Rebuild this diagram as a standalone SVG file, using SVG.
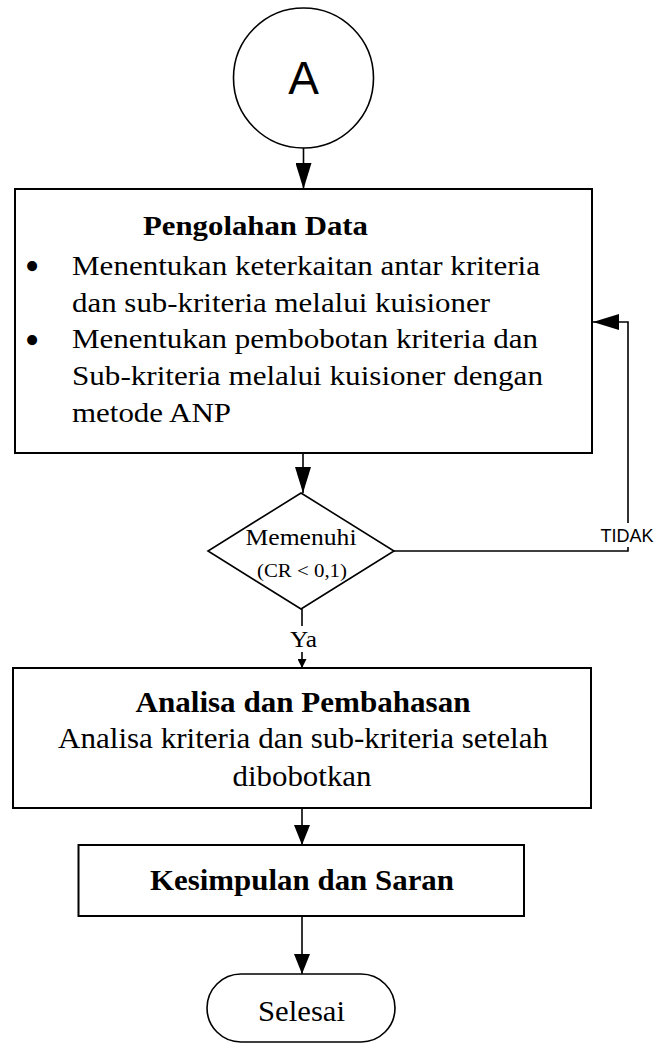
<svg xmlns="http://www.w3.org/2000/svg" width="661" height="1043" viewBox="0 0 661 1043">
<style>
.box{fill:#fff;stroke:#000;stroke-width:2}
.ln{fill:none;stroke:#000;stroke-width:1.6}
.t{font-family:"Liberation Serif","Times New Roman",serif;fill:#000}
.b{font-weight:bold}
.s{font-family:"Liberation Sans",Arial,sans-serif;fill:#000}
.bg{fill:#fff;stroke:none}
</style>
<defs>
<marker id="ah" markerUnits="userSpaceOnUse" markerWidth="26" markerHeight="16" refX="26" refY="8" orient="auto"><path d="M0,0 L26,8 L0,16 Z" fill="#000"/></marker>
<marker id="ahm" markerUnits="userSpaceOnUse" markerWidth="20" markerHeight="16" refX="20" refY="8" orient="auto"><path d="M0,0 L20,8 L0,16 Z" fill="#000"/></marker>
<marker id="ahs" markerUnits="userSpaceOnUse" markerWidth="9" markerHeight="9" refX="9" refY="4.5" orient="auto"><path d="M0,0 L9,4.5 L0,9 Z" fill="#000"/></marker>
</defs>
<rect width="661" height="1043" fill="#fff"/>
<g id="connectors">
<path class="ln" d="M303.5,148 V189" marker-end="url(#ah)"/>
<path class="ln" d="M303,453 V493" marker-end="url(#ah)"/>
<path class="ln" d="M394,551 H628 V322 H593" marker-end="url(#ah)"/>
<path class="ln" d="M302,609 V626"/>
<path class="ln" d="M302,652 V668" marker-end="url(#ahs)"/>
<path class="ln" d="M302,808 V845" marker-end="url(#ahm)"/>
<path class="ln" d="M302,916 V974" marker-end="url(#ahm)"/>
<g id="label-tidak"><rect class="bg" x="598" y="523" width="60" height="24"/><text class="s" x="627" y="542" font-size="18" text-anchor="middle">TIDAK</text></g>
<g id="label-ya"><rect class="bg" x="288" y="626" width="30" height="26"/><text class="t" x="303.5" y="647" font-size="23" text-anchor="middle" textLength="27" lengthAdjust="spacingAndGlyphs">Ya</text></g>
</g>
<g id="node-a">
<circle cx="303.5" cy="78" r="70" fill="#fff" stroke="#000" stroke-width="1.6"/>
<text class="s" x="303.5" y="94" font-size="46" text-anchor="middle">A</text>
</g>
<g id="node-pengolahan">
<rect class="box" x="15" y="189" width="577" height="264"/>
<text class="t b" x="143" y="235" font-size="27" textLength="225" lengthAdjust="spacingAndGlyphs">Pengolahan Data</text>
<text class="t" x="32" y="280" font-size="42" text-anchor="middle">•</text>
<text class="t" x="72" y="275" font-size="28" textLength="468" lengthAdjust="spacingAndGlyphs">Menentukan keterkaitan antar kriteria</text>
<text class="t" x="72" y="312" font-size="28" textLength="418" lengthAdjust="spacingAndGlyphs">dan sub-kriteria melalui kuisioner</text>
<text class="t" x="32" y="354" font-size="42" text-anchor="middle">•</text>
<text class="t" x="72" y="348" font-size="28" textLength="466" lengthAdjust="spacingAndGlyphs">Menentukan pembobotan kriteria dan</text>
<text class="t" x="72" y="385" font-size="28" textLength="471" lengthAdjust="spacingAndGlyphs">Sub-kriteria melalui kuisioner dengan</text>
<text class="t" x="72" y="422" font-size="28" textLength="159" lengthAdjust="spacingAndGlyphs">metode ANP</text>
</g>
<g id="node-memenuhi">
<polygon points="301,493 394,551 301,609 208,551" fill="#fff" stroke="#000" stroke-width="1.6"/>
<text class="t" x="301" y="545" font-size="24" text-anchor="middle" textLength="111" lengthAdjust="spacingAndGlyphs">Memenuhi</text>
<text class="t" x="302" y="577" font-size="19" text-anchor="middle" textLength="90" lengthAdjust="spacingAndGlyphs">(CR &lt; 0,1)</text>
</g>
<g id="node-analisa">
<rect class="box" x="13" y="668" width="578" height="140"/>
<text class="t b" x="303" y="712" font-size="29" text-anchor="middle" textLength="335" lengthAdjust="spacingAndGlyphs">Analisa dan Pembahasan</text>
<text class="t" x="303" y="748" font-size="29" text-anchor="middle" textLength="490" lengthAdjust="spacingAndGlyphs">Analisa kriteria dan sub-kriteria setelah</text>
<text class="t" x="302" y="786" font-size="29" text-anchor="middle" textLength="139" lengthAdjust="spacingAndGlyphs">dibobotkan</text>
</g>
<g id="node-kesimpulan">
<rect class="box" x="78.5" y="845" width="445.5" height="71" stroke-width="2.4"/>
<text class="t b" x="302" y="890" font-size="29" text-anchor="middle" textLength="304" lengthAdjust="spacingAndGlyphs">Kesimpulan dan Saran</text>
</g>
<g id="node-selesai">
<rect x="207" y="974" width="188" height="68" rx="34" ry="34" fill="#fff" stroke="#000" stroke-width="1.6"/>
<text class="t" x="301.5" y="1021" font-size="30" text-anchor="middle" textLength="87" lengthAdjust="spacingAndGlyphs">Selesai</text>
</g>
</svg>
